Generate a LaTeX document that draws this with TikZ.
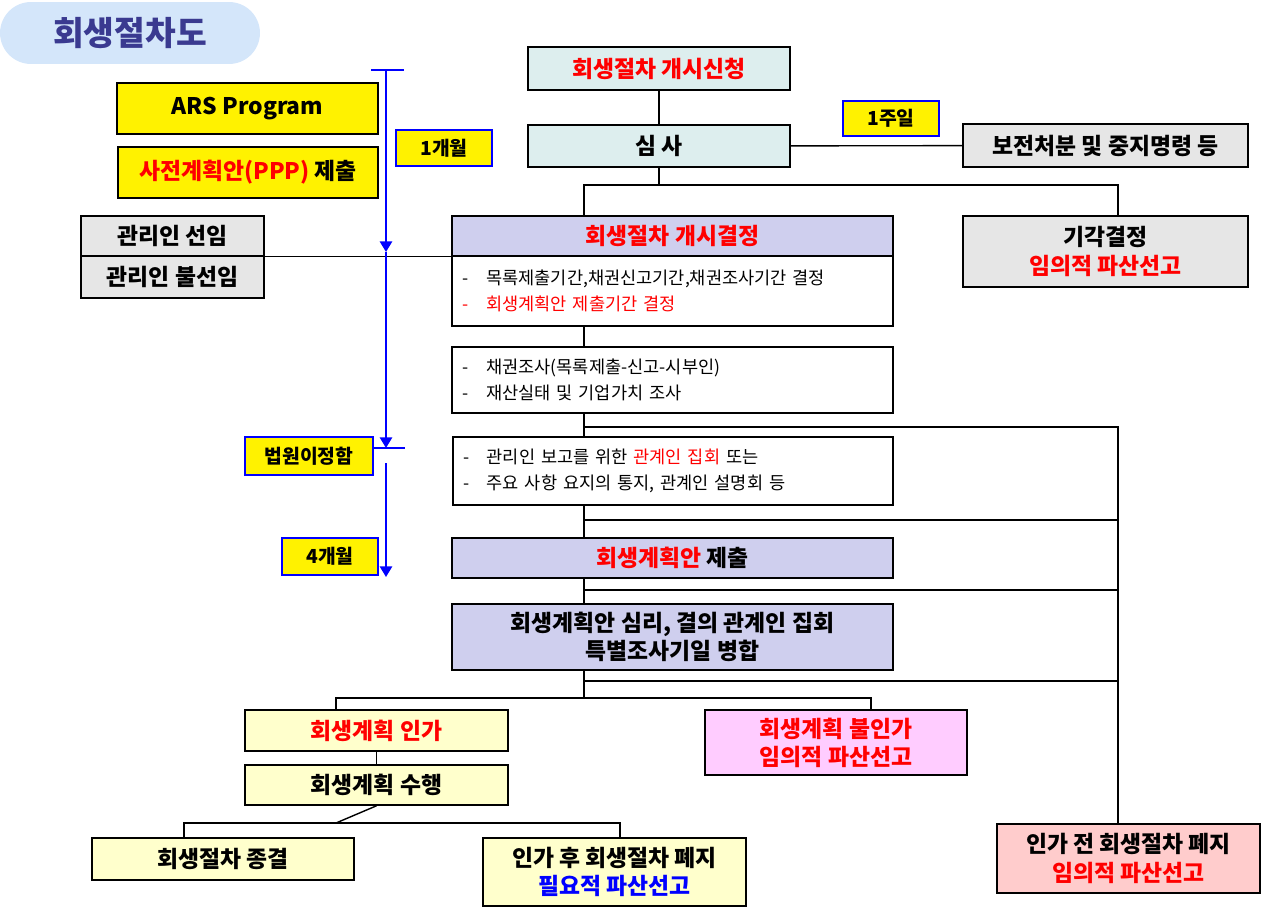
\documentclass[tikz,border=0pt]{standalone}
\usepackage{fontspec}
\setmainfont{Noto Sans CJK KR}
\usetikzlibrary{positioning,arrows.meta}
\tikzset{>=Triangle}
\definecolor{cyanbg}{HTML}{DDEEEE}
\definecolor{graybg}{HTML}{E6E6E6}
\definecolor{lavbg}{HTML}{CFCFEE}
\definecolor{lyel}{HTML}{FFFFCC}
\definecolor{lpink}{HTML}{FFCCFF}
\definecolor{lrose}{HTML}{FFCCCC}
\definecolor{titlebg}{HTML}{D4E6FA}
\definecolor{titlefg}{HTML}{3A3A90}

\begin{document}
\begin{tikzpicture}[x=0.02cm,y=-0.02cm,
  box/.style={draw,line width=0.9pt,inner sep=1pt,font=\bfseries\fontsize{13}{16}\selectfont,align=center},
  list/.style={box,align=left,font=\fontsize{10}{15}\selectfont,text width=8.4cm},
  tag/.style={draw=blue,line width=1pt,fill=yellow,font=\fontsize{11}{13}\selectfont,inner sep=0pt},
  link/.style={line width=0.8pt},
  time/.style={blue,line width=1.2pt}]
\useasboundingbox (0,0) rectangle (1271,922);
% title
\node[fill=titlebg,rounded corners=0.62cm,minimum width=5.2cm,minimum height=1.24cm,text=titlefg,font=\bfseries\fontsize{19}{22}\selectfont] (title) at (130,33) {회생절차도};
% main column
\node[box,fill=cyanbg,minimum width=5.24cm,minimum height=0.86cm] (start) at (659,68.5) {\textcolor{red}{회생절차 개시신청}};
\node[box,fill=cyanbg,minimum width=5.24cm,minimum height=0.84cm] (simsa) at (659,146) {심 사};
\node[tag,minimum width=1.92cm,minimum height=0.70cm] (week) at (891,118.5) {\textbf{1주일}};
\node[box,fill=graybg,minimum width=5.7cm,minimum height=0.86cm] (bojeon) at (1105.5,145.5) {보전처분 및 중지명령 등};
\node[box,fill=lavbg,minimum width=8.82cm,minimum height=0.8cm] (gaesi) at (672.5,236) {\textcolor{red}{회생절차 개시결정}};
\node[list,minimum width=8.82cm,minimum height=1.4cm] (gaesilist) at (672.5,291) {-\quad 목록제출기간,채권신고기간,채권조사기간 결정\\\textcolor{red}{-\quad 회생계획안 제출기간 결정}};
\node[box,fill=graybg,minimum width=5.7cm,minimum height=1.42cm] (gigak) at (1105.5,251.5) {기각결정\\\textcolor{red}{임의적 파산선고}};
\node[list,minimum width=8.82cm,minimum height=1.32cm] (chaegwon) at (672.5,380) {-\quad 채권조사(목록제출-신고-시부인)\\-\quad 재산실태 및 기업가치 조사};
\node[list,minimum width=8.8cm,minimum height=1.36cm] (gwangye) at (673,471) {-\quad 관리인 보고를 위한 \textcolor{red}{관계인 집회} 또는\\-\quad 주요 사항 요지의 통지, 관계인 설명회 등};
\node[box,fill=lavbg,minimum width=8.82cm,minimum height=0.8cm] (jechul) at (672.5,558) {\textcolor{red}{회생계획안} 제출};
\node[box,fill=lavbg,minimum width=8.82cm,minimum height=1.32cm] (simri) at (672.5,637) {회생계획안 심리, 결의 관계인 집회\\특별조사기일 병합};
\node[box,fill=lyel,minimum width=5.26cm,minimum height=0.82cm] (inga) at (376.5,730.5) {\textcolor{red}{회생계획 인가}};
\node[box,fill=lyel,minimum width=5.26cm,minimum height=0.8cm] (suhaeng) at (376.5,785) {회생계획 수행};
\node[box,fill=lpink,minimum width=5.24cm,minimum height=1.3cm] (bulinga) at (836,742.5) {\textcolor{red}{회생계획 불인가}\\\textcolor{red}{임의적 파산선고}};
\node[box,fill=lyel,minimum width=5.24cm,minimum height=0.84cm] (jonggyeol) at (223,859) {회생절차 종결};
\node[box,fill=lyel,minimum width=5.26cm,minimum height=1.36cm] (pyeji) at (614.5,872) {인가 후 회생절차 폐지\\\textcolor{blue}{필요적 파산선고}};
\node[box,fill=lrose,minimum width=5.26cm,minimum height=1.38cm] (injeon) at (1128.5,858.5) {인가 전 회생절차 폐지\\\textcolor{red}{임의적 파산선고}};
% left column
\node[box,fill=yellow,minimum width=5.22cm,minimum height=1.02cm] (ars) at (247.5,108.5) {ARS Program};
\node[box,fill=yellow,minimum width=5.2cm,minimum height=1.02cm] (ppp) at (248,172.5) {\textcolor{red}{사전계획안(PPP)} 제출};
\node[box,fill=graybg,minimum width=3.66cm,minimum height=0.8cm] (sunim) at (172.5,236) {관리인 선임};
\node[box,fill=graybg,minimum width=3.66cm,minimum height=0.84cm] (bulsunim) at (172.5,277) {관리인 불선임};
% connectors
\draw[link] (start) -- (simsa);
\draw[link] (simsa) -- (bojeon);
\draw[link] (simsa.south) -- (659,185) coordinate (s1);
\draw[link] (gaesi.north -| 584,0) |- (s1) -| (gigak.north -| 1118,0);
\draw[link] (sunim.south east) -- (gaesi.south west);
\draw[link] (gaesilist.south -| 584,0) -- (chaegwon.north -| 584,0);
\draw[link] (chaegwon.south -| 584,0) -- (gwangye.north -| 584,0);
\draw[link] (gwangye.south -| 584,0) -- (jechul.north -| 584,0);
\draw[link] (jechul.south -| 584,0) -- (simri.north -| 584,0);
\draw[link] (simri.south -| 584,0) -- (584,698) coordinate (s2);
\draw[link] (inga.north -| 336,0) |- (s2) -| (bulinga.north -| 871,0);
\draw[link] (inga) -- (suhaeng);
\draw[link] (suhaeng.south) -- (336,823) coordinate (s3);
\draw[link] (jonggyeol.north -| 184,0) |- (s3) -| (pyeji.north -| 620,0);
\draw[link] (injeon.north -| 1118,0) -- (1118,427) -- (584,427);
\foreach \y in {520,590,681} \draw[link] (584,\y) -- (1118,\y);
% timeline
\coordinate (t0) at (386,70);
\coordinate (t1) at (386,448);
\coordinate (t2) at (386,463);
\coordinate (t3) at (386,577);
\draw[time] (371,70) -- (404,70);
\draw[time] (373,448) -- (405,448);
\draw[time,->] (t0) -- (386,252);
\draw[time,->] (386,252) -- (t1);
\draw[time,->] (t2) -- (t3);
\node[tag,minimum width=1.92cm,minimum height=0.72cm] (month1) at (444,148) {\textbf{1개월}};
\node[tag,minimum width=2.56cm,minimum height=0.76cm] (court) at (309,456) {\textbf{법원이정함}};
\node[tag,minimum width=1.92cm,minimum height=0.74cm] (month4) at (330,556.5) {\textbf{4개월}};
\end{tikzpicture}
\end{document}
